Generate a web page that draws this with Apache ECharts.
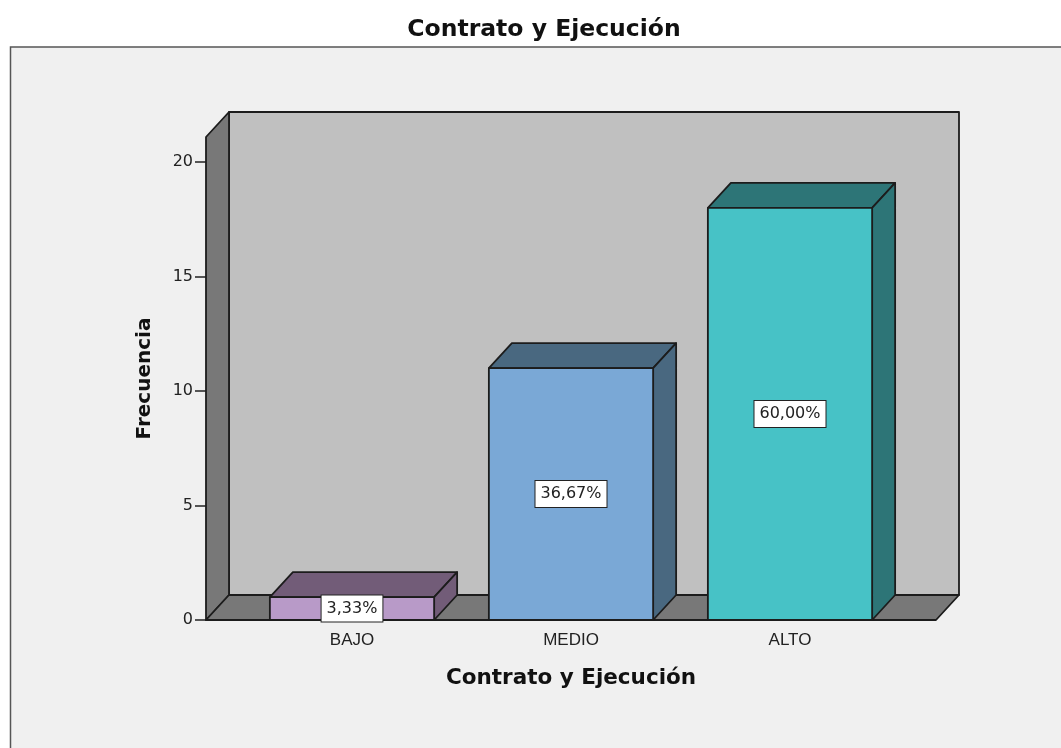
<!DOCTYPE html>
<html>
<head>
<meta charset="utf-8">
<title>Contrato y Ejecución</title>
<script src="https://cdn.jsdelivr.net/npm/echarts@6/dist/echarts.min.js"></script>
<style>
  html, body { margin: 0; padding: 0; background: #fff; }
  #main { width: 1061px; height: 748px; }
</style>
</head>
<body>
<div id="main"></div>
<script>
var categories = ['BAJO', 'MEDIO', 'ALTO'];
var frequencies = [1, 11, 18];
var percentLabels = ['3,33%', '36,67%', '60,00%'];
var yTicks = [0, 5, 10, 15, 20];
var yTop = 21.1;

var frontColors = ['#b89ac8', '#7aa8d6', '#47c2c6'];
var shadeColors = ['#725c78', '#496880', '#2d7577'];
var edge = '#1c1c1c';
var depthX = 23, depthY = -25;   // oblique offset of the 3D box
var sidePad = 36.5;              // wall runs past the category bands by this much
var font = '"Liberation Sans", Arial, sans-serif';
var wideFont = '"DejaVu Sans", sans-serif';

var chart = echarts.init(document.getElementById('main'));

function poly(points, fill) {
  return {
    type: 'polygon',
    shape: { points: points },
    style: { fill: fill, stroke: edge, lineWidth: 1.8, lineJoin: 'round' }
  };
}

// back wall, side wall and floor
function renderWalls(params, api) {
  var top = api.coord([0, yTop])[1];
  var base = api.coord([0, 0])[1];
  var x0 = params.coordSys.x - sidePad;
  var x1 = params.coordSys.x + params.coordSys.width + sidePad;
  return {
    type: 'group',
    children: [
      poly([[x0 + depthX, top + depthY], [x1 + depthX, top + depthY], [x1 + depthX, base + depthY], [x0 + depthX, base + depthY]], '#c0c0c0'),
      poly([[x0, top], [x0 + depthX, top + depthY], [x0 + depthX, base + depthY], [x0, base]], '#787878'),
      poly([[x0, base], [x0 + depthX, base + depthY], [x1 + depthX, base + depthY], [x1, base]], '#787878')
    ]
  };
}

function renderBar(params, api) {
  var i = params.dataIndex;
  var v = api.value(1);
  var p = api.coord([i, v]);
  var b = api.coord([i, 0]);
  var w = api.size([1, 0])[0] * 0.75;
  var l = p[0] - w / 2, r = p[0] + w / 2;
  var mid = api.coord([i, v / 2]);
  return {
    type: 'group',
    children: [
      poly([[l, p[1]], [l + depthX, p[1] + depthY], [r + depthX, p[1] + depthY], [r, p[1]]], shadeColors[i]),
      poly([[r, p[1]], [r + depthX, p[1] + depthY], [r + depthX, b[1] + depthY], [r, b[1]]], shadeColors[i]),
      poly([[l, p[1]], [r, p[1]], [r, b[1]], [l, b[1]]], frontColors[i]),
      {
        type: 'text',
        z2: 10,
        style: {
          x: p[0],
          y: mid[1],
          text: percentLabels[i],
          align: 'center',
          verticalAlign: 'middle',
          fill: '#222',
          font: '16px ' + wideFont,
          backgroundColor: '#fff',
          borderColor: '#222',
          borderWidth: 1,
          padding: [5, 5, 5, 5]
        }
      }
    ]
  };
}

var option = {
  backgroundColor: '#fff',
  animation: false,
  graphic: [{
    type: 'rect',
    z: -10,
    shape: { x: 10.5, y: 47, width: 1100, height: 800 },
    style: { fill: '#f0f0f0', stroke: '#555', lineWidth: 1.5 }
  }],
  title: {
    text: 'Contrato y Ejecución',
    left: 539,
    top: 13,
    textAlign: 'center',
    textStyle: { color: '#111', fontSize: 23.5, fontWeight: 'bold', fontFamily: wideFont }
  },
  grid: { left: 242.5, top: 137, width: 657, height: 483 },
  xAxis: {
    type: 'category',
    data: categories,
    name: 'Contrato y Ejecución',
    nameLocation: 'middle',
    nameGap: 47,
    nameTextStyle: { color: '#111', fontSize: 21.5, fontWeight: 'bold', fontFamily: wideFont },
    axisLine: { show: false },
    axisTick: { alignWithLabel: true, length: 10, lineStyle: { color: '#222', width: 1.5 } },
    axisLabel: { color: '#222', fontSize: 17, fontFamily: font, margin: 12 }
  },
  yAxis: {
    type: 'value',
    min: 0,
    max: yTop,
    offset: sidePad,
    name: 'Frecuencia',
    nameLocation: 'middle',
    nameGap: 51,
    nameTextStyle: { color: '#111', fontSize: 20, fontWeight: 'bold', fontFamily: wideFont },
    axisLine: { show: false },
    splitLine: { show: false },
    axisTick: { show: true, length: 11, customValues: yTicks, lineStyle: { color: '#222', width: 1.5 } },
    axisLabel: { color: '#222', fontSize: 16, fontFamily: wideFont, margin: 13, customValues: yTicks }
  },
  series: [
    {
      type: 'custom',
      silent: true,
      renderItem: renderWalls,
      data: [[0, yTop]],
      encode: { x: 0, y: 1 },
      z: 1
    },
    {
      type: 'custom',
      renderItem: renderBar,
      data: frequencies.map(function (v, i) { return [i, v]; }),
      encode: { x: 0, y: 1 },
      z: 2
    }
  ]
};

chart.setOption(option);
</script>
</body>
</html>
